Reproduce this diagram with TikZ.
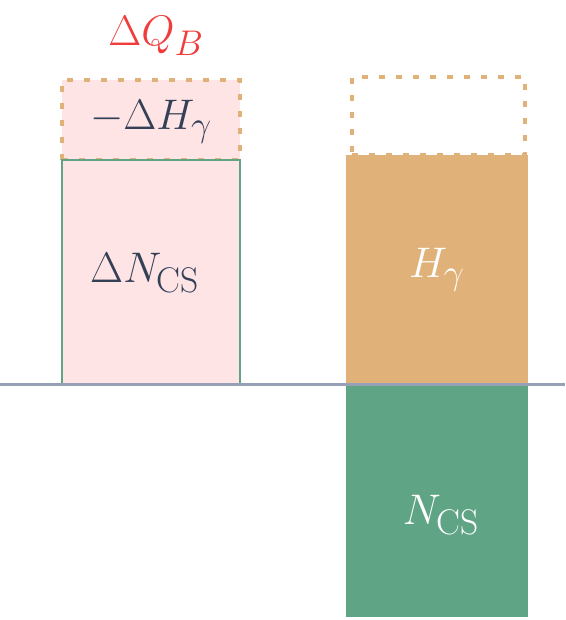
\documentclass[tikz,border=0pt]{standalone}
\usepackage{amsmath}
\definecolor{pinkfill}{RGB}{255,228,230}
\definecolor{sand}{RGB}{224,178,122}
\definecolor{teal}{RGB}{96,164,134}
\definecolor{axisc}{RGB}{150,160,182}
\definecolor{labc}{RGB}{52,64,86}
\definecolor{redc}{RGB}{240,60,60}
\newcommand\lblsc[1]{\scalebox{1.72}{$#1$}}
\begin{document}
\begin{tikzpicture}[x=1pt,y=-1pt,
  box/.style={anchor=north west,inner sep=0pt,outer sep=0pt},
  dotbox/.style={box,draw=sand,line width=4.5pt,dash pattern=on 6pt off 11pt},
  lab/.style={font=\fontsize{24.88}{28}\selectfont,text=labc},
  wlab/.style={font=\fontsize{24.88}{28}\selectfont,text=white}]
\useasboundingbox (0,0) rectangle (565,620);
% left column
\node[box,fill=pinkfill,minimum width=178pt,minimum height=80pt] (dh) at (62,80) {};
\node[dotbox,minimum width=178pt,minimum height=80pt] (dhb) at (62,80) {};
\node[box,fill=pinkfill,draw=teal,line width=2.5pt,minimum width=178pt,minimum height=224pt] (dn) at (62,160) {};
% right column
\node[dotbox,minimum width=173pt,minimum height=78pt] (hb) at (352,77) {};
\node[box,fill=sand,minimum width=182pt,minimum height=230pt] (h) at (346,155) {};
\node[box,fill=teal,minimum width=182pt,minimum height=232pt] (n) at (346,385) {};
% axis
\coordinate (a1) at (0,384);
\coordinate (a2) at (565,384);
\draw[axisc,line width=3pt] (a1) -- (a2);
% labels
\node[font=\fontsize{24.88}{28}\selectfont,text=redc] (q) at (156,36) {\lblsc{\Delta Q_B}};
\node[lab] (l1) at ([yshift=-2pt]dh.center) {\lblsc{-\Delta H_\gamma}};
\node[lab] (l2) at ([xshift=-6pt,yshift=-1pt]dn.center) {\lblsc{\Delta N_{\text{CS}}}};
\node[wlab] (l3) at (h.center) {\lblsc{H_\gamma}};
\node[wlab] (l4) at ([xshift=4pt,yshift=-14pt]n.center) {\lblsc{N_{\text{CS}}}};
\end{tikzpicture}
\end{document}
